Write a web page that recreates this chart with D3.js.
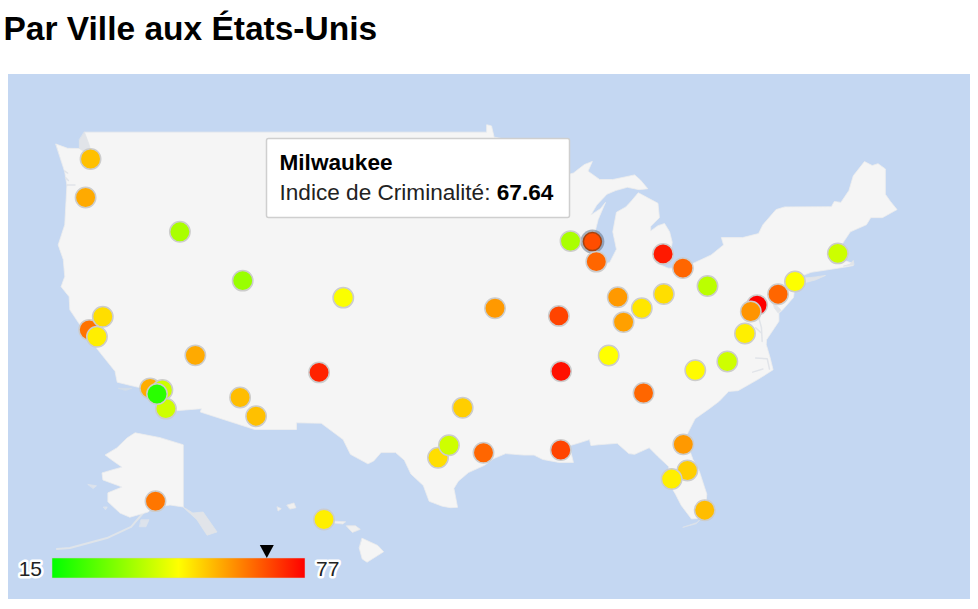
<!DOCTYPE html>
<html>
<head>
<meta charset="utf-8">
<title>Par Ville aux États-Unis</title>
<script src="https://cdn.jsdelivr.net/npm/d3@7"></script>
<style>
    html, body { margin: 0; padding: 0; background: #fff; }
    svg { display: block; font-family: "Liberation Sans", Arial, sans-serif; }
    .halo { paint-order: stroke; stroke: #fff; stroke-width: 5px; stroke-linejoin: round; }
</style>
</head>
<body>
<svg id="chart" width="978" height="609"></svg>
<script>
// city data
const cities = ['Seattle','Portland','Boise','Salt Lake City','Denver','Kansas City','St. Louis','Memphis','Nashville','Indianapolis','Louisville','Cincinnati','Columbus','Detroit','Cleveland','Pittsburgh','Madison','Chicago','Boston','Baltimore','Philadelphia','New York','Washington','Richmond','Raleigh','Charlotte','Atlanta','Jacksonville','Orlando','Tampa','Miami','New Orleans','Houston','San Antonio','Austin','Dallas','Albuquerque','Las Vegas','Phoenix','Tucson','San Francisco','Sacramento','San Jose','Los Angeles','Riverside','San Diego','Irvine','Anchorage','Honolulu','Milwaukee']
const lons = [-122.33,-122.67,-116.2,-111.89,-104.99,-94.58,-90.2,-90.05,-86.78,-86.16,-85.76,-84.51,-83,-83.05,-81.69,-80,-89.4,-87.63,-71.06,-76.6,-75.16,-74,-77.03,-77.43,-78.64,-80.84,-84.39,-81.66,-81.38,-82.46,-80.19,-90.07,-95.37,-98.49,-97.74,-96.8,-106.65,-115.14,-112.07,-110.97,-122.42,-121.49,-121.89,-118.24,-117.4,-117.16,-117.77,-149.9,-157.86,-87.9]
const lats = [47.6,45.52,43.6,40.76,39.74,39.1,38.63,35.15,36.16,39.77,38.25,39.1,39.96,42.33,41.5,40.44,43.07,41.88,42.36,39.29,39.95,40.71,38.9,37.54,35.78,35.22,33.75,30.33,28.54,27.95,25.77,29.95,29.76,29.42,30.27,32.78,35.08,36.17,33.45,32.22,37.77,38.58,37.34,34.05,33.95,32.72,33.68,60.9,21.3,43.04]
const crimeIndex = [53.7,56.3,35.7,33.6,45.5,58.4,68.7,75,46,58.4,57.5,49,50,74,64.6,37.7,35.7,64.6,39.8,77,64.6,45.7,59,48,40,46.5,64.6,58.4,52,48,54,68.7,64.6,50,40,52,72.8,56.3,54,53.7,63,50,48,56,40,40,20,62.7,48,67.64]

const minValue = 15
const maxValue = 77
const colorStops = ['#00ff00', '#ffff00', '#ff0000']
const selectedCity = 'Milwaukee'

// outlines in lon/lat
const mainland = [[-124.7,48.38],[-123.9,48.16],[-123.1,48.15],[-122.75,48.2],[-122.75,49],[-95.15,49],[-95.15,49.38],[-94.82,49.32],[-94.64,48.74],[-93.84,48.63],[-92.95,48.62],[-92,48.3],[-91.4,48.07],[-90.75,48.1],[-89.6,48],[-90.8,47.3],[-92.1,46.75],[-90.9,46.9],[-90.4,46.57],[-89.2,46.85],[-88.45,47.3],[-87.9,47.47],[-88.2,46.95],[-87.4,46.5],[-86.5,46.5],[-85,46.75],[-84.6,46.47],[-84.1,46],[-84.7,45.95],[-85.5,46.08],[-86.3,45.9],[-86.9,45.7],[-87.6,45.1],[-88,44.55],[-87.35,44.9],[-87,45.25],[-87.5,44.3],[-87.9,43],[-87.8,42.3],[-87.55,41.75],[-87.2,41.65],[-86.7,41.85],[-86.25,42.6],[-86.5,43.6],[-86.25,44.7],[-85.6,45],[-85.2,45.35],[-84.75,45.78],[-84.1,45.5],[-83.4,45.2],[-83.3,44.4],[-83.9,43.9],[-83.9,43.65],[-83.4,43.95],[-82.95,44.07],[-82.6,43.6],[-82.42,43],[-82.5,42.6],[-82.9,42.35],[-83.1,42.2],[-83.4,41.75],[-82.7,41.5],[-81.7,41.5],[-80.5,41.97],[-79.75,42.27],[-78.9,42.85],[-79.05,43.27],[-77.6,43.27],[-76.5,43.5],[-76.2,44],[-75.3,44.85],[-74.7,45],[-71.5,45.01],[-71.3,45.3],[-70.85,45.25],[-70.3,45.9],[-70,46.7],[-69.23,47.46],[-68.7,47.25],[-68.3,47.35],[-67.8,47.07],[-67.8,45.7],[-67.45,45.3],[-67,44.85],[-68,44.4],[-68.8,44.4],[-69.1,44],[-70.2,43.6],[-70.6,43.1],[-70.8,42.85],[-70.6,42.65],[-71,42.3],[-70.6,41.95],[-70.05,41.78],[-70,41.65],[-70.65,41.55],[-71.4,41.45],[-72.9,41.25],[-73.65,41],[-74,40.7],[-74,40.45],[-74.1,39.75],[-74.9,38.95],[-75.1,38.8],[-75.1,38.3],[-75.95,37.15],[-75.97,36.85],[-75.7,36],[-75.5,35.25],[-76.5,34.65],[-77.9,33.9],[-78.55,33.85],[-79.2,33.2],[-79.9,32.7],[-80.85,32.05],[-81.4,31],[-81.4,30.4],[-81,29.3],[-80.55,28.45],[-80.05,26.9],[-80.13,25.8],[-80.4,25.2],[-81.1,25.15],[-81.8,26.1],[-82.2,26.9],[-82.75,27.85],[-82.65,28.8],[-83.4,29.5],[-84,30.1],[-85,29.65],[-85.4,29.7],[-86.2,30.4],[-87.5,30.3],[-88,30.25],[-88.1,30.65],[-88.9,30.4],[-89.6,30.2],[-89.4,29.9],[-89.2,29.1],[-90.2,29.1],[-91.3,29.3],[-91.9,29.6],[-92.6,29.6],[-93.85,29.7],[-94.7,29.35],[-95.3,28.9],[-96.4,28.4],[-97.1,27.8],[-97.4,27.3],[-97.15,25.97],[-97.65,25.95],[-98.2,26.05],[-99.1,26.4],[-99.5,27.5],[-100.35,28.3],[-100.8,29.25],[-101.4,29.77],[-102.4,29.77],[-102.9,29.2],[-103.3,29],[-104.5,29.65],[-105,30.65],[-106.5,31.75],[-108.2,31.78],[-108.2,31.33],[-111.07,31.33],[-114.8,32.5],[-114.72,32.72],[-117.12,32.53],[-117.3,33],[-118.4,33.75],[-118.5,34.03],[-119.2,34.15],[-120.5,34.45],[-120.65,35.15],[-121.9,36.6],[-122,36.95],[-122.5,37.5],[-122.5,37.8],[-123,38],[-123.75,39],[-123.8,39.8],[-124.35,40.4],[-124.1,41],[-124.2,42],[-124.55,42.85],[-124.1,44],[-123.95,46.2],[-124.1,46.9]]
const longIsland = [[-74,40.6],[-73.7,40.88],[-72.6,40.98],[-71.9,41.07],[-72.6,40.8],[-73.6,40.58]]
const capeCod = [[-70.65,41.62],[-69.95,41.7],[-70,41.95],[-70.2,41.75]]
const floridaKeys = [[-80.35,25.3],[-80.7,24.9],[-81.7,24.55],[-80.8,24.8]]
const pugetSound = [[-122.75,49],[-122.45,48.4],[-122.25,47.9],[-122.35,47.25],[-122.85,47.2],[-122.6,47.9],[-123.1,48.15],[-123.1,48.6]]
const delawareBay = [[-75.55,39.55],[-74.95,38.98],[-75.15,38.8],[-75.4,39.1]]
const innerWaters = [
    [[-76.3,39.2],[-76.45,38.4],[-76.3,37.9],[-76.25,37.05]],
    [[-76.7,37.9],[-76.35,37.6]],
    [[-76.7,36],[-75.9,35.95],[-75.75,35.3]],
    [[-76.9,35.1],[-76.2,35.3]],
    [[-124.1,46.95],[-123.9,46.85]],
    [[-124.05,46.6],[-123.85,46.45]],
    [[-123.95,46.2],[-123.4,46.2]]
]
const channelIslands = [[-120.4,34.05],[-119.5,34.05],[-119.9,33.92]]
const alaska = [[-141,69.7],[-148.4,70.8],[-156.5,71.55],[-159.1,70.75],[-162.4,69.2],[-166.2,68.1],[-164,67.3],[-160.7,66.2],[-163.7,65.8],[-167.2,65.3],[-166.9,64.2],[-160.7,63.1],[-165.3,62.2],[-165.3,60.8],[-161.4,59.05],[-158.2,58.4],[-152.3,59.2],[-151,59.8],[-145.2,60.3],[-141,60]]
const alaskaChain = [[-153.9,59.05],[-157.8,56.9],[-165.6,55.15],[-177.6,53.6],[-181.8,53.45]]
const panhandle = [[-141,60],[-137.8,59.05],[-134.5,59.2],[-130,56.1],[-133.2,55.6],[-136.5,58]]
const alaskaIslands = [
    [[-154.5,58],[-152,58],[-153,56.9],[-155,56.9]],
    [[-171.7,63.5],[-169,63.3],[-170,62.9]],
    [[-166.7,60],[-165.5,60],[-166,59.6]]
]
const hawaiiBig = [[-155.9,20.25],[-155.1,19.85],[-154.8,19.5],[-155.65,18.92],[-155.9,19.1],[-156.05,19.7]]
const hawaiiSmall = [
    [[-159.75,22.1],[-159.4,22.22],[-159.3,21.95],[-159.6,21.88]],
    [[-160.25,22],[-160.05,21.9],[-160.2,21.78]],
    [[-158.25,21.55],[-158,21.7],[-157.65,21.3],[-158.1,21.3]],
    [[-157.3,21.2],[-156.75,21.17],[-156.9,21.05],[-157.3,21.1]],
    [[-156.7,20.95],[-156.25,20.95],[-156,20.75],[-156.4,20.58],[-156.6,20.8]]
]

const svg = d3.select('#chart')

// plot frame
svg.append('rect').attr('x', 8).attr('y', 74).attr('width', 962).attr('height', 525).attr('fill', '#c4d7f2')

svg.append('text').attr('x', 3.5).attr('y', 40)
    .attr('font-size', 33.5).attr('font-weight', 'bold').attr('fill', '#000')
    .text('Par Ville aux États-Unis')

// the mainland is squeezed mercator, the insets are simple linear
const mercY = d3.geoMercator().scale(180 / Math.PI).translate([0, 0])
const xMain = d3.scaleLinear().domain([-124.7, -67]).range([56, 897])
const yMain = d3.scaleLinear().domain([26.7, 54.26]).range([510, 159])
const xAlaska = d3.scaleLinear().domain([-141, -130]).range([183, 217])
const yAlaska = d3.scaleLinear().domain([60.3, 55]).range([505, 539])
const xHawaii = d3.scaleLinear().domain([-155.5, -159.5]).range([370, 292])
const yHawaii = d3.scaleLinear().domain([19.6, 22.05]).range([550, 506])

const projMain = ([lon, lat]) => [xMain(lon), yMain(-mercY([0, lat])[1])]
const projAlaska = ([lon, lat]) => [xAlaska(lon), yAlaska(lat)]
const projHawaii = ([lon, lat]) => [xHawaii(lon), yHawaii(lat)]
const pickProj = (lon, lat) => lat > 50 ? projAlaska : (lon < -140 ? projHawaii : projMain)

const drawLand = (points, proj, fill, stroke, closed = true, width = 0.8) => {
    const line = d3.line().x(d => proj(d)[0]).y(d => proj(d)[1])
    svg.append('path')
        .attr('d', line(points) + (closed ? 'Z' : ''))
        .attr('fill', closed ? fill : 'none')
        .attr('stroke', stroke)
        .attr('stroke-width', width)
        .attr('stroke-linejoin', 'round')
        .attr('stroke-linecap', 'round')
}

const shoal = '#e1e4e9'
drawLand(mainland, projMain, '#f5f5f5', '#eeeeee')
drawLand(pugetSound, projMain, shoal, shoal)
drawLand(delawareBay, projMain, shoal, shoal)
innerWaters.forEach(w => drawLand(w, projMain, 'none', shoal, false, 1.5))
drawLand(longIsland, projMain, shoal, shoal)
drawLand(capeCod, projMain, shoal, shoal)
drawLand(floridaKeys, projMain, shoal, '#dde2ea')
drawLand(channelIslands, projMain, '#d3dde9', '#d3dde9')
drawLand(panhandle, projAlaska, shoal, shoal)
alaskaIslands.forEach(a => drawLand(a, projAlaska, '#dde3ec', '#dde3ec'))
drawLand(alaskaChain, projAlaska, 'none', '#dfe4ea', false, 2)
drawLand(alaska, projAlaska, '#f5f5f5', '#eeeeee')
hawaiiSmall.forEach(island => drawLand(island, projHawaii, '#f0f0f0', '#e8e9ea'))
drawLand(hawaiiBig, projHawaii, '#f5f5f5', '#ececec')

// markers
const color = d3.scaleLinear()
    .domain([minValue, (minValue + maxValue) / 2, maxValue])
    .range(colorStops)
    .interpolate(d3.interpolateRgb)

const markers = cities.map((name, i) => ({ name, value: crimeIndex[i], pos: pickProj(lons[i], lats[i])([lons[i], lats[i]]) }))

svg.append('g').selectAll('circle')
    .data(markers.filter(d => d.name == selectedCity))
    .enter().append('circle')
    .attr('cx', d => d.pos[0]).attr('cy', d => d.pos[1])
    .attr('r', 12).attr('fill', '#5a6a80').attr('opacity', 0.5)

svg.append('g').selectAll('circle')
    .data(markers)
    .enter().append('circle')
    .attr('cx', d => d.pos[0]).attr('cy', d => d.pos[1])
    .attr('r', d => d.name == selectedCity ? 9 : 10.2)
    .attr('fill', d => color(d.value))
    .attr('stroke', d => d.name == selectedCity ? '#a5420f' : '#cccccc')
    .attr('stroke-width', 1.5)

// legend
const legendX = d3.scaleLinear().domain([minValue, maxValue]).range([52, 305])
const gradient = svg.append('defs').append('linearGradient').attr('id', 'legendGrad')
colorStops.forEach((c, i) => {
    gradient.append('stop').attr('offset', (i * 50) + '%').attr('stop-color', c)
})
svg.append('rect')
    .attr('x', legendX(minValue)).attr('y', 558)
    .attr('width', legendX(maxValue) - legendX(minValue)).attr('height', 20)
    .attr('fill', 'url(#legendGrad)').attr('stroke', '#ccc').attr('stroke-width', 0.5)
svg.append('text').attr('class', 'halo').attr('x', 42).attr('y', 575.5)
    .attr('text-anchor', 'end').attr('font-size', 21).attr('fill', '#222').text(minValue)
svg.append('text').attr('class', 'halo').attr('x', 316).attr('y', 575.5)
    .attr('font-size', 21).attr('fill', '#222').text(maxValue)

const selected = markers.find(d => d.name == selectedCity)
const tx = legendX(selected.value)
svg.append('path')
    .attr('d', d3.line()([[tx - 7, 545], [tx + 7, 545], [tx, 558]]) + 'Z')
    .attr('fill', '#000')

// tooltip for the selected city
svg.append('rect').attr('x', 266.5).attr('y', 138.5).attr('width', 303).attr('height', 79)
    .attr('rx', 2).attr('fill', '#fff').attr('stroke', '#cfcfcf').attr('stroke-width', 1.5)
svg.append('text').attr('x', 279.5).attr('y', 170)
    .attr('font-size', 22.6).attr('font-weight', 'bold').attr('fill', '#000').text(selected.name)
const tipLine = svg.append('text').attr('x', 279.5).attr('y', 200).attr('font-size', 22.6).attr('fill', '#222')
tipLine.append('tspan').text('Indice de Criminalité: ')
tipLine.append('tspan').attr('font-weight', 'bold').attr('fill', '#000').text(selected.value)
</script>
</body>
</html>
